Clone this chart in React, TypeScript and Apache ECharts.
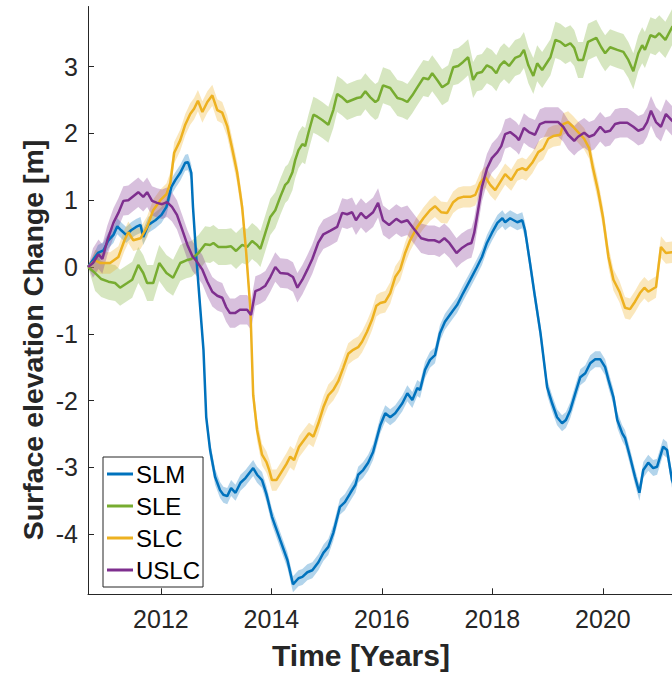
import React, { useEffect, useRef } from "react";
import * as echarts from "echarts";

// Surface elevation change relative to the first epoch, in metres, per year.
const slm: [number, number][] = [
  [2010.68, 0], [2010.86, 0.21], [2010.96, 0.25], [2011.05, 0.4], [2011.14, 0.48], [2011.21, 0.61],
  [2011.28, 0.55], [2011.37, 0.48], [2011.46, 0.55], [2011.55, 0.6], [2011.63, 0.63], [2011.68, 0.45],
  [2011.77, 0.63], [2011.9, 0.7], [2012.01, 0.78], [2012.1, 0.9], [2012.19, 1.2], [2012.26, 1.3],
  [2012.35, 1.41], [2012.44, 1.56], [2012.49, 1.57], [2012.55, 1.41], [2012.58, 0.9], [2012.64, 0.15],
  [2012.71, -0.6], [2012.77, -1.24], [2012.82, -2.25], [2012.89, -2.74], [2012.98, -3.14], [2013.07, -3.34],
  [2013.13, -3.41], [2013.2, -3.43], [2013.27, -3.31], [2013.35, -3.38], [2013.44, -3.23], [2013.53, -3.16],
  [2013.67, -3.01], [2013.74, -3.11], [2013.83, -3.19], [2013.91, -3.4], [2014.01, -3.74], [2014.16, -4.09],
  [2014.29, -4.39], [2014.39, -4.75], [2014.49, -4.66], [2014.56, -4.64], [2014.65, -4.57], [2014.74, -4.54],
  [2014.85, -4.42], [2014.94, -4.28], [2015.03, -4.19], [2015.12, -3.98], [2015.24, -3.59], [2015.33, -3.52],
  [2015.43, -3.38], [2015.52, -3.26], [2015.57, -3.11], [2015.66, -3.04], [2015.75, -2.93], [2015.84, -2.77],
  [2015.97, -2.37], [2016.06, -2.19], [2016.15, -2.25], [2016.24, -2.19], [2016.37, -2.04], [2016.46, -1.89],
  [2016.55, -1.99], [2016.64, -1.81], [2016.69, -1.84], [2016.78, -1.54], [2016.87, -1.39], [2016.96, -1.32],
  [2017.05, -0.99], [2017.14, -0.82], [2017.27, -0.67], [2017.36, -0.57], [2017.47, -0.39], [2017.6, -0.19],
  [2017.72, 0.0], [2017.81, 0.15], [2017.9, 0.36], [2017.99, 0.51], [2018.09, 0.66], [2018.18, 0.73],
  [2018.23, 0.67], [2018.32, 0.73], [2018.45, 0.67], [2018.54, 0.7], [2018.59, 0.55], [2018.68, 0.06],
  [2018.77, -0.45], [2018.87, -0.99], [2018.99, -1.8], [2019.08, -2.04], [2019.17, -2.25], [2019.26, -2.34],
  [2019.33, -2.29], [2019.41, -2.14], [2019.5, -1.89], [2019.59, -1.65], [2019.68, -1.59], [2019.77, -1.44],
  [2019.86, -1.38], [2019.95, -1.38], [2020.04, -1.5], [2020.1, -1.69], [2020.19, -1.95], [2020.26, -2.29],
  [2020.35, -2.49], [2020.4, -2.56], [2020.49, -2.84], [2020.58, -3.14], [2020.66, -3.38], [2020.73, -3.04],
  [2020.82, -2.93], [2020.91, -3.01], [2020.98, -2.99], [2021.09, -2.69], [2021.16, -2.74], [2021.25, -3.19],
  [2021.32, -3.35],
];

const sle: [number, number][] = [
  [2010.68, 0], [2010.81, -0.09], [2010.92, -0.18], [2011.05, -0.22], [2011.17, -0.24], [2011.26, -0.31],
  [2011.39, -0.24], [2011.48, -0.19], [2011.59, 0.03], [2011.68, -0.09], [2011.75, -0.24], [2011.86, -0.24],
  [2011.97, 0.06], [2012.1, -0.09], [2012.22, -0.16], [2012.35, 0.06], [2012.46, 0.1], [2012.55, 0.12],
  [2012.68, 0.21], [2012.8, 0.34], [2012.89, 0.33], [2012.95, 0.36], [2013.04, 0.3], [2013.18, 0.3],
  [2013.27, 0.31], [2013.36, 0.24], [2013.47, 0.33], [2013.56, 0.3], [2013.65, 0.39], [2013.74, 0.33],
  [2013.8, 0.27], [2013.89, 0.51], [2013.98, 0.75], [2014.07, 0.85], [2014.16, 1.05], [2014.25, 1.23],
  [2014.3, 1.27], [2014.38, 1.42], [2014.43, 1.6], [2014.49, 1.75], [2014.56, 1.84], [2014.61, 1.81],
  [2014.67, 2.01], [2014.76, 2.28], [2014.83, 2.25], [2014.92, 2.2], [2015.03, 2.13], [2015.12, 2.35],
  [2015.19, 2.59], [2015.28, 2.54], [2015.37, 2.47], [2015.46, 2.5], [2015.55, 2.53], [2015.62, 2.54],
  [2015.7, 2.63], [2015.79, 2.54], [2015.88, 2.47], [2015.93, 2.5], [2016.02, 2.72], [2016.15, 2.68],
  [2016.28, 2.53], [2016.37, 2.51], [2016.46, 2.47], [2016.55, 2.57], [2016.64, 2.69], [2016.75, 2.83],
  [2016.84, 2.81], [2016.91, 2.9], [2017.0, 2.8], [2017.09, 2.69], [2017.2, 2.75], [2017.29, 2.99],
  [2017.38, 3.01], [2017.47, 3.07], [2017.56, 3.14], [2017.65, 2.8], [2017.72, 2.9], [2017.81, 2.92],
  [2017.9, 3.02], [2017.99, 2.98], [2018.07, 2.9], [2018.14, 3.02], [2018.21, 3.08], [2018.3, 3.01],
  [2018.41, 3.13], [2018.5, 3.16], [2018.57, 3.25], [2018.65, 3.02], [2018.74, 2.86], [2018.81, 3.05],
  [2018.9, 2.95], [2019.05, 3.14], [2019.14, 3.4], [2019.23, 3.37], [2019.32, 3.31], [2019.41, 3.35],
  [2019.48, 3.28], [2019.55, 3.1], [2019.64, 3.1], [2019.73, 3.37], [2019.88, 3.43], [2019.97, 3.29],
  [2020.04, 3.2], [2020.13, 3.29], [2020.26, 3.25], [2020.37, 3.22], [2020.46, 3.1], [2020.55, 2.93],
  [2020.64, 3.2], [2020.71, 3.32], [2020.76, 3.25], [2020.86, 3.47], [2020.95, 3.44], [2021.02, 3.5],
  [2021.13, 3.4], [2021.25, 3.59], [2021.32, 3.65],
];

const slc: [number, number][] = [
  [2010.68, 0], [2010.81, 0.1], [2010.9, 0.06], [2011.08, 0.06], [2011.23, 0.15], [2011.34, 0.4],
  [2011.41, 0.52], [2011.5, 0.4], [2011.63, 0.43], [2011.75, 0.6], [2011.86, 0.85], [2011.99, 1.0],
  [2012.1, 1.09], [2012.17, 1.26], [2012.24, 1.71], [2012.35, 1.9], [2012.44, 2.13], [2012.53, 2.29],
  [2012.6, 2.37], [2012.67, 2.49], [2012.75, 2.32], [2012.84, 2.47], [2012.93, 2.57], [2013.02, 2.35],
  [2013.11, 2.31], [2013.2, 2.11], [2013.29, 1.77], [2013.38, 1.41], [2013.47, 0.9], [2013.54, 0.25],
  [2013.62, -0.64], [2013.67, -1.92], [2013.74, -2.44], [2013.83, -2.81], [2013.91, -2.92], [2013.96, -3.04],
  [2014.01, -3.19], [2014.09, -3.19], [2014.18, -3.07], [2014.27, -2.95], [2014.34, -2.84], [2014.41, -2.89],
  [2014.5, -2.69], [2014.59, -2.59], [2014.68, -2.49], [2014.76, -2.54], [2014.85, -2.34], [2014.94, -2.1],
  [2015.03, -1.92], [2015.12, -1.84], [2015.21, -1.71], [2015.3, -1.51], [2015.39, -1.3], [2015.48, -1.24],
  [2015.57, -1.2], [2015.64, -1.12], [2015.73, -0.97], [2015.82, -0.79], [2015.9, -0.58], [2015.97, -0.54],
  [2016.06, -0.52], [2016.15, -0.39], [2016.24, -0.15], [2016.33, -0.04], [2016.42, 0.21], [2016.51, 0.4],
  [2016.64, 0.6], [2016.75, 0.73], [2016.87, 0.85], [2016.96, 0.91], [2017.07, 0.82], [2017.18, 0.81],
  [2017.29, 0.97], [2017.38, 1.03], [2017.47, 1.05], [2017.6, 1.05], [2017.69, 1.08], [2017.78, 1.26],
  [2017.87, 1.35], [2017.96, 1.23], [2018.05, 1.15], [2018.14, 1.27], [2018.23, 1.39], [2018.34, 1.3],
  [2018.45, 1.45], [2018.54, 1.48], [2018.61, 1.45], [2018.72, 1.56], [2018.83, 1.72], [2018.92, 1.77],
  [2019.01, 1.92], [2019.1, 1.96], [2019.23, 1.98], [2019.28, 2.14], [2019.37, 2.17], [2019.46, 2.1],
  [2019.55, 2.02], [2019.66, 1.92], [2019.75, 1.78], [2019.82, 1.48], [2019.91, 1.15], [2020.0, 0.75],
  [2020.1, 0.15], [2020.19, -0.19], [2020.3, -0.37], [2020.4, -0.61], [2020.49, -0.63], [2020.58, -0.52],
  [2020.67, -0.39], [2020.75, -0.31], [2020.82, -0.37], [2020.96, -0.3], [2021.05, 0.3], [2021.14, 0.21],
  [2021.25, 0.22], [2021.32, 0.25],
];

const uslc: [number, number][] = [
  [2010.68, 0], [2010.77, 0.06], [2010.87, 0.19], [2010.94, 0.12], [2011.03, 0.4], [2011.14, 0.66],
  [2011.23, 0.81], [2011.32, 0.99], [2011.41, 1.0], [2011.5, 1.06], [2011.59, 1.12], [2011.68, 1.05],
  [2011.75, 1.12], [2011.84, 0.99], [2011.93, 0.96], [2012.02, 0.94], [2012.11, 0.97], [2012.2, 0.9],
  [2012.29, 0.78], [2012.38, 0.57], [2012.48, 0.33], [2012.57, 0.16], [2012.66, 0.07], [2012.75, -0.04],
  [2012.84, -0.22], [2012.93, -0.37], [2013.02, -0.43], [2013.11, -0.46], [2013.18, -0.6], [2013.25, -0.69],
  [2013.34, -0.69], [2013.43, -0.64], [2013.56, -0.64], [2013.63, -0.72], [2013.71, -0.36], [2013.8, -0.33],
  [2013.89, -0.28], [2013.98, -0.15], [2014.07, 0.0], [2014.16, -0.09], [2014.29, -0.1], [2014.39, -0.15],
  [2014.47, -0.31], [2014.56, -0.19], [2014.65, -0.04], [2014.74, 0.12], [2014.85, 0.37], [2014.94, 0.49],
  [2015.06, 0.54], [2015.19, 0.6], [2015.28, 0.81], [2015.37, 0.79], [2015.46, 0.82], [2015.53, 0.7],
  [2015.62, 0.81], [2015.71, 0.73], [2015.84, 0.82], [2015.93, 0.96], [2016.02, 0.7], [2016.13, 0.63],
  [2016.26, 0.72], [2016.35, 0.67], [2016.46, 0.7], [2016.57, 0.58], [2016.71, 0.43], [2016.84, 0.4],
  [2016.95, 0.4], [2017.04, 0.37], [2017.13, 0.43], [2017.22, 0.36], [2017.35, 0.21], [2017.44, 0.28],
  [2017.55, 0.34], [2017.62, 0.36], [2017.67, 0.51], [2017.74, 0.85], [2017.81, 1.2], [2017.9, 1.47],
  [2017.99, 1.63], [2018.09, 1.72], [2018.16, 1.81], [2018.23, 1.99], [2018.32, 2.02], [2018.43, 1.95],
  [2018.48, 1.9], [2018.57, 2.08], [2018.66, 2.02], [2018.77, 1.98], [2018.86, 2.14], [2018.95, 2.17],
  [2019.1, 2.17], [2019.19, 2.17], [2019.28, 2.1], [2019.37, 1.98], [2019.48, 1.89], [2019.55, 1.95],
  [2019.66, 2.01], [2019.75, 1.95], [2019.84, 1.98], [2019.95, 2.1], [2020.04, 2.02], [2020.13, 2.04],
  [2020.22, 2.14], [2020.31, 2.16], [2020.44, 2.16], [2020.55, 2.1], [2020.64, 2.04], [2020.73, 2.07],
  [2020.8, 2.17], [2020.87, 2.34], [2020.96, 2.17], [2021.05, 2.1], [2021.14, 2.29], [2021.25, 2.19],
  [2021.32, 2.15],
];

// Half-width of each uncertainty envelope, metres.
const slmBand = 0.12;
const sleBand = 0.27;
const slcBand = 0.16;
const uslcBand = 0.22;

const seriesNames = ["SLM", "SLE", "SLC", "USLC"];
const xTicks = [2012, 2014, 2016, 2018, 2020];
const yTicks = [-4, -3, -2, -1, 0, 1, 2, 3];

const FONT = "'Liberation Sans', Arial, Helvetica, sans-serif";
const AXIS_COLOR = "#262626";

type Pt = [number, number];

function hexToRgba(hex: string, a: number) {
  const n = parseInt(hex.slice(1), 16);
  return `rgba(${(n >> 16) & 255}, ${(n >> 8) & 255}, ${n & 255}, ${a})`;
}

// Shaded envelope (value ± half-width) drawn as one polygon through the axes' scales.
function bandSeries(name: string, pts: Pt[], half: number, color: string) {
  const h = (i: number) => (i === 0 ? 0 : half);
  return {
    type: "custom",
    name: `${name} envelope`,
    silent: true,
    clip: true,
    z: 1,
    data: [pts[0]],
    encode: { x: 0, y: 1 },
    renderItem: (_params: any, api: any) => {
      const upper = pts.map(([x, v], i) => api.coord([x, v + h(i)]));
      const lower = pts.map(([x, v], i) => api.coord([x, v - h(i)])).reverse();
      return {
        type: "polygon",
        shape: { points: upper.concat(lower) },
        style: { fill: hexToRgba(color, 0.3), stroke: "none" },
      };
    },
  };
}

export default function App() {
  const ref = useRef<HTMLDivElement>(null);

  useEffect(() => {
    if (!ref.current) return;
    const chart = echarts.init(ref.current, undefined, { renderer: "svg" });

    const data: Pt[][] = [slm, sle, slc, uslc];
    const bands = [slmBand, sleBand, slcBand, uslcBand];
    const colors = ["#0072BD", "#77AC30", "#EDB120", "#7E2F8E"];

    const series: any[] = [];
    seriesNames.forEach((n, i) => {
      series.push(bandSeries(n, data[i], bands[i], colors[i]));
    });
    seriesNames.forEach((n, i) => {
      series.push({
        name: n,
        type: "line",
        data: data[i],
        symbol: "none",
        z: 3,
        color: colors[i],
        lineStyle: { width: 2.5, color: colors[i] },
        itemStyle: { color: colors[i] },
      });
    });

    chart.setOption({
      animation: false,
      backgroundColor: "#ffffff",
      textStyle: { fontFamily: FONT },
      grid: {
        left: 88,
        right: 0,
        top: 6.5,
        bottom: 78.7,
        containLabel: false,
        outerBoundsMode: "none",
      },
      xAxis: {
        type: "value",
        min: 2010.68,
        max: 2021.25,
        axisLine: { show: true, onZero: false, lineStyle: { color: AXIS_COLOR, width: 1 } },
        axisTick: {
          show: true,
          inside: true,
          length: 6,
          customValues: xTicks,
          lineStyle: { color: AXIS_COLOR },
        },
        axisLabel: {
          customValues: xTicks,
          fontSize: 25,
          color: AXIS_COLOR,
          margin: 12,
          fontFamily: FONT,
          formatter: (v: number) => String(v),
        },
        splitLine: { show: false },
      },
      yAxis: {
        type: "value",
        min: -4.9,
        max: 3.9,
        axisLine: { show: true, onZero: false, lineStyle: { color: AXIS_COLOR, width: 1 } },
        axisTick: {
          show: true,
          inside: true,
          length: 6,
          customValues: yTicks,
          lineStyle: { color: AXIS_COLOR },
        },
        axisLabel: {
          customValues: yTicks,
          fontSize: 25,
          color: AXIS_COLOR,
          margin: 10,
          fontFamily: FONT,
          formatter: (v: number) => String(v),
        },
        splitLine: { show: false },
      },
      legend: {
        data: seriesNames,
        orient: "vertical",
        left: 103,
        top: 457,
        z: 10,
        icon: "rect",
        itemWidth: 26,
        itemHeight: 3,
        itemGap: 8,
        padding: [5, 3, 5, 4],
        borderColor: AXIS_COLOR,
        borderWidth: 1,
        borderRadius: 0,
        backgroundColor: "#ffffff",
        textStyle: {
          fontSize: 24,
          lineHeight: 22,
          color: "#000000",
          fontFamily: FONT,
          padding: [0, 0, 0, -2],
        },
      },
      graphic: [
        {
          type: "text",
          x: 361,
          y: 655,
          z: 10,
          style: {
            text: "Time [Years]",
            font: `bold 30px ${FONT}`,
            fill: AXIS_COLOR,
            align: "center",
            verticalAlign: "middle",
          },
        },
        {
          type: "text",
          x: 33,
          y: 340,
          rotation: Math.PI / 2,
          z: 10,
          style: {
            text: "Surface elevation Change [m]",
            font: `bold 28.5px ${FONT}`,
            fill: AXIS_COLOR,
            align: "center",
            verticalAlign: "middle",
          },
        },
      ],
      series,
    });

    return () => chart.dispose();
  }, []);

  return (
    <div
      ref={ref}
      style={{ position: "fixed", left: 0, top: 0, width: 672, height: 673, background: "#fff" }}
    />
  );
}
